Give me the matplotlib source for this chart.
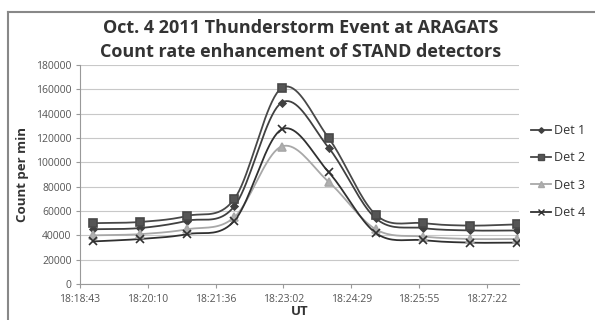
import numpy as np
import matplotlib
matplotlib.use("Agg")
import matplotlib.pyplot as plt
from matplotlib.lines import Line2D

# ---- data ----
times = ["18:19:00", "18:20:00", "18:21:00", "18:22:00", "18:23:00",
         "18:24:00", "18:25:00", "18:26:00", "18:27:00", "18:28:00"]
det1 = [45000, 46000, 52000, 64000, 149000, 112000, 54000, 46000, 44000, 44000]
det2 = [50000, 51000, 56000, 70000, 161000, 120000, 57000, 50000, 48000, 49000]
det3 = [40000, 41000, 45000, 55000, 113000, 84000, 45000, 39000, 37000, 37000]
det4 = [35000, 37000, 41000, 52000, 127000, 92000, 42000, 36000, 34000, 34000]
series_names = ["Det 1", "Det 2", "Det 3", "Det 4"]
xtick_labels = ["18:18:43", "18:20:10", "18:21:36", "18:23:02", "18:24:29", "18:25:55", "18:27:22"]
yticks = list(range(0, 180001, 20000))

def to_days(t):
    h, m, s = [int(v) for v in t.split(":")]
    return (h * 3600 + m * 60 + s) / 86400.0

x = np.array([to_days(t) for t in times])

def smooth(xs, ys, n=20):
    xs = np.asarray(xs, float); ys = np.asarray(ys, float)
    m = len(xs)
    tang = np.zeros(m)
    for i in range(m):
        if i == 0:
            tang[i] = (ys[1] - ys[0]) / (xs[1] - xs[0])
        elif i == m - 1:
            tang[i] = (ys[-1] - ys[-2]) / (xs[-1] - xs[-2])
        else:
            tang[i] = (ys[i + 1] - ys[i - 1]) / (xs[i + 1] - xs[i - 1])
    ox, oy = [], []
    for i in range(m - 1):
        h = xs[i + 1] - xs[i]
        t = np.linspace(0, 1, n, endpoint=(i == m - 2))
        h00 = 2*t**3 - 3*t**2 + 1
        h10 = t**3 - 2*t**2 + t
        h01 = -2*t**3 + 3*t**2
        h11 = t**3 - t**2
        ox.append(xs[i] + t * h)
        oy.append(h00*ys[i] + h10*h*tang[i] + h01*ys[i+1] + h11*h*tang[i+1])
    return np.concatenate(ox), np.concatenate(oy)

plt.rcParams['font.family'] = ['Open Sans', 'DejaVu Sans']

fig = plt.figure(figsize=(5.95, 3.2), dpi=100)
fig.patch.set_facecolor("white")

# outer chart frame
fig.add_artist(Line2D([8/595, 8/595], [0, 1 - 12/320], transform=fig.transFigure,
                      color="#888888", lw=1.5))
fig.add_artist(Line2D([8/595, 1], [1 - 12/320, 1 - 12/320], transform=fig.transFigure,
                      color="#888888", lw=1.5))

ax = fig.add_axes([80/595, 1 - 284/320, (519 - 80)/595, (284 - 65)/320])

styles = [
    dict(color="#404040", marker="D", ms=3.5, mfc="#404040"),
    dict(color="#484848", marker="s", ms=6, mfc="#555555"),
    dict(color="#a8a8a8", marker="^", ms=5.5, mfc="#b0b0b0"),
    dict(color="#303030", marker="x", ms=6, mfc="#303030"),
]
data = [det1, det2, det3, det4]
handles = []
for name, ys, st in zip(series_names, data, styles):
    sx, sy = smooth(x, ys)
    ax.plot(sx, sy, color=st["color"], lw=1.3, zorder=3)
    ax.plot(x, ys, linestyle="none", marker=st["marker"], ms=st["ms"],
            color=st["color"], mfc=st["mfc"], mec=st["color"], mew=1.2, zorder=4)
    handles.append(Line2D([], [], color=st["color"], lw=1.3, marker=st["marker"],
                          ms=st["ms"] * 0.8, mfc=st["mfc"], mec=st["color"], mew=1.0))

x0 = 0.763
ax.set_xlim(x0, x0 + 0.006475)
ax.set_ylim(0, 180000)
ax.set_xticks([x0 + 0.001 * k for k in range(len(xtick_labels))])
ax.set_xticklabels(xtick_labels)
ax.set_yticks(yticks)
ax.set_yticklabels([str(v) for v in yticks])
ax.grid(axis="y", color="#c8c8c8", lw=0.8)
ax.set_axisbelow(True)
for s in ["top", "right"]:
    ax.spines[s].set_visible(False)
ax.spines["left"].set_color("#999999")
ax.spines["bottom"].set_color("#999999")
ax.tick_params(axis="both", labelsize=7.5, colors="#999999", labelcolor="#555555",
               length=3, width=0.8)
ax.tick_params(axis="x", pad=4)
ax.tick_params(axis="y", pad=3)

ax.set_xlabel("UT", fontsize=9.5, fontweight="bold", color="#333333", labelpad=0)
ax.set_ylabel("Count per min", fontsize=9.5, fontweight="bold", color="#333333", labelpad=5)

fig.text(301/595, 1 - 28/320, "Oct. 4 2011 Thunderstorm Event at ARAGATS",
         ha="center", va="center", fontsize=13, fontweight="bold", color="#333333")
fig.text(301/595, 1 - 52/320, "Count rate enhancement of STAND detectors",
         ha="center", va="center", fontsize=13, fontweight="bold", color="#333333")

leg = fig.legend(handles, series_names, loc="upper left",
                 bbox_to_anchor=(526/595, 1 - 119/320), frameon=False,
                 fontsize=9, handlelength=1.6, handletextpad=0.2, labelspacing=1.15,
                 borderaxespad=0)
for t in leg.get_texts():
    t.set_color("#333333")

fig.savefig("out.png", dpi=100, facecolor="white")
